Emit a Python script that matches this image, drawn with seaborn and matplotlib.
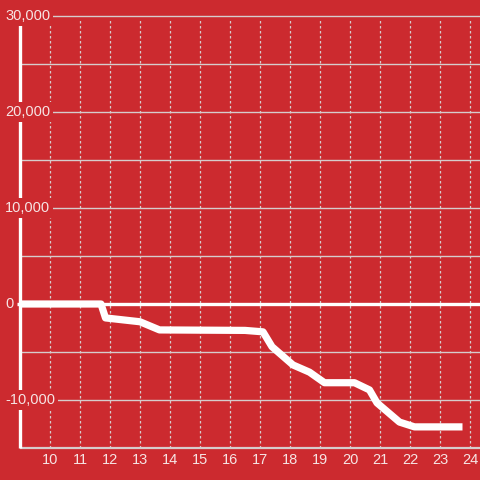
import matplotlib
matplotlib.use('Agg')
import matplotlib.pyplot as plt
import seaborn as sns

# data
hours = [9.0, 11.7, 11.85, 13.0, 13.65, 16.5, 17.1, 17.4, 18.1, 18.65,
         19.15, 20.15, 20.65, 20.9, 21.65, 22.15, 23.75]
balance = [0, 0, -1450, -1850, -2700, -2750, -2900, -4450, -6350, -7100,
           -8200, -8200, -8950, -10300, -12300, -12800, -12800]

x_ticks = list(range(10, 25))
y_ticks = [-10000, 0, 10000, 20000, 30000]
y_labels = ['-10,000', '0', '10,000', '20,000', '30,000']
y_grid = [-10000, -5000, 5000, 10000, 15000, 20000, 25000, 30000]

bg = '#cc2a2f'
grid_col = '#d6cccc'
text_col = '#f6e4e4'

sns.set_style('white')
plt.rcParams['font.family'] = ['Liberation Sans', 'DejaVu Sans']

fig = plt.figure(figsize=(4.8, 4.8), dpi=100, facecolor=bg)
ax = fig.add_axes([0, 0, 1, 1])
ax.set_facecolor(bg)
ax.axis('off')

x_lo, x_hi = 9 - 20 / 30, 9 + 460 / 30
y_lo, y_hi = -15000 - 32 / 96 * 10000, 30000 + 16 / 96 * 10000
ax.set_xlim(x_lo, x_hi)
ax.set_ylim(y_lo, y_hi)

# grid
ax.vlines(x_ticks, -15000, 29600, colors=grid_col, linestyles=(0, (2, 2)), lw=0.9, zorder=1)
ax.hlines(y_grid, 9, x_hi, colors=grid_col, lw=1, zorder=1)
ax.hlines(-15000, 9, x_hi, colors=grid_col, lw=1.6, zorder=2)
ax.hlines(0, 8.9, x_hi, colors='white', lw=2.4, zorder=2)
ax.vlines(9, -15000, 29170, colors='white', lw=2.4, zorder=2)

sns.lineplot(x=hours, y=balance, color='white', lw=5.2, ax=ax, zorder=3,
             solid_capstyle='butt', solid_joinstyle='round')

# tick labels
for v, lab in zip(y_ticks, y_labels):
    ax.text(x_lo + 5 / 30, v, lab, ha='left', va='center', color=text_col, fontsize=10.5,
            zorder=5, bbox=dict(facecolor=bg, edgecolor='none', pad=2))
for h in x_ticks:
    ax.text(h, -16300, str(h), ha='center', va='center', color=text_col, fontsize=10.5)

fig.savefig('out.png', dpi=100, facecolor=bg)
